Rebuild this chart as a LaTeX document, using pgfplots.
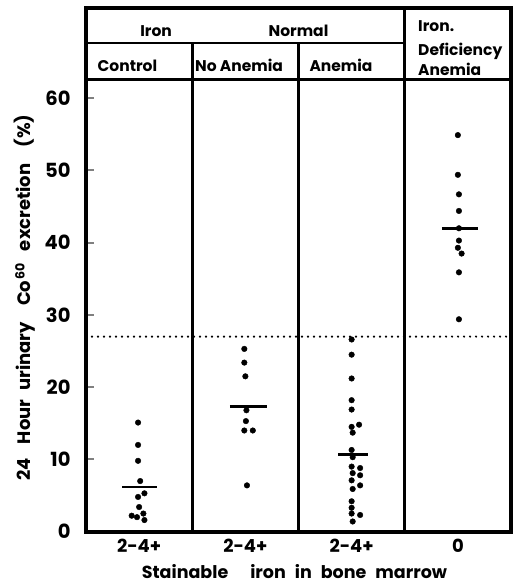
\documentclass[border=0pt]{standalone}
\usepackage{fontspec}
\setmainfont{Poppins}
\usepackage{pgfplots}
\pgfplotsset{compat=1.18}

\begin{document}
\begin{tikzpicture}
\path[use as bounding box] (-86pt,-54.4pt) rectangle (432pt,531.6pt);
\begin{axis}[
  scale only axis, width=425pt, height=523.6pt,
  xmin=-0.5, xmax=3.5, ymin=0, ymax=72.5,
  clip=false,
  axis line style={line width=4pt},
  xtick={0,1,2,3}, xticklabels={2-4+,2-4+,2-4+,0},
  xtick style={draw=none},
  ytick={0,10,20,30,40,50,60},
  ytick pos=left, tick align=inside,
  ytick style={line width=2pt},
  major tick length=8pt,
  /pgf/number format/assume math mode=true,
  yticklabel style={font=\bfseries\fontsize{19.5}{19.5}\selectfont, xshift=-12pt},
  xticklabel style={font=\bfseries\fontsize{18}{18}\selectfont, yshift=-4pt},
  xlabel={Stainable\hspace{22pt}iron\hspace{9pt}in\hspace{9pt}bone\hspace{9pt}marrow},
  ylabel={24\hspace{14pt}Hour\hspace{9pt}urinary\hspace{16pt}Co\hspace{1pt}\textsuperscript{60}\hspace{12pt}excretion\hspace{16pt}(\%)},
  xlabel style={font=\bfseries\fontsize{17.5}{17.5}\selectfont, at={(axis description cs:0.4906,-0.0765)}, anchor=center},
  ylabel style={font=\bfseries\fontsize{18}{18}\selectfont, at={(axis description cs:-0.1435,0.447)}, anchor=center},
  dot/.style={only marks, mark=*, mark size=2.8pt, black},
  mean/.style={no marks, sharp plot, black, line width=2.5pt},
]
% header grid
\draw[line width=3pt] (axis cs:-0.5,62.54) -- (axis cs:3.5,62.54);
\draw[line width=2.5pt] (axis cs:-0.5,67.67) -- (axis cs:2.5,67.67);
\draw[line width=2.5pt] (axis cs:0.5,0) -- (axis cs:0.5,67.67);
\draw[line width=2.5pt] (axis cs:1.5,0) -- (axis cs:1.5,67.67);
\draw[line width=3pt] (axis cs:2.5,0) -- (axis cs:2.5,72.5);
% header text
\begin{scope}[every node/.style={font=\bfseries\fontsize{15.5}{15.5}\selectfont, inner sep=0pt}]
\node[anchor=base] at (axis cs:0.16,68.5) {Iron};
\node[anchor=base] at (axis cs:1.50,68.5) {Normal};
\node[anchor=base] at (axis cs:-0.11,63.7) {Control};
\node[anchor=base] at (axis cs:0.94,63.7) {No Anemia};
\node[anchor=base] at (axis cs:1.90,63.7) {Anemia};
\node[anchor=base west] at (axis cs:2.625,69.2) {Iron.};
\node[anchor=base west] at (axis cs:2.625,65.9) {Deficiency};
\node[anchor=base west] at (axis cs:2.625,63.1) {Anemia};
\end{scope}
% reference level
\draw[line width=2.3pt, line cap=round, dash pattern=on 0pt off 6pt] (axis cs:-0.5,27) -- (axis cs:3.5,27);

% Iron normal, control
\addplot[dot] coordinates {(-0.01,15.1)(-0.01,12.0)(-0.01,9.8)(0.01,7.0)(0.05,5.3)(-0.01,4.8)(0.0,3.4)(0.04,2.5)(-0.07,2.2)(-0.02,2.0)(0.05,1.6)};
% Iron normal, no anemia
\addplot[dot] coordinates {(0.99,25.3)(0.99,23.4)(1.0,21.5)(1.01,16.8)(1.005,15.3)(0.99,14.0)(1.07,14.0)(1.015,6.4)};
% Iron normal, anemia
\addplot[dot] coordinates {(2.0,26.6)(2.0,24.5)(2.0,21.2)(2.0,18.2)(2.0,16.9)(2.07,14.8)(2.0,14.5)(2.01,13.7)(2.0,11.3)(2.01,10.3)(2.0,9.0)(2.08,8.8)(2.01,8.1)(2.08,7.8)(2.0,7.1)(2.08,6.4)(2.01,5.9)(2.0,4.2)(2.0,3.3)(2.0,2.5)(2.08,2.3)(2.01,1.4)};
% Iron deficiency anemia
\addplot[dot] coordinates {(3.0,54.9)(3.0,49.4)(3.01,46.7)(3.01,44.4)(3.01,42.0)(3.01,40.3)(3.0,39.3)(3.035,38.5)(3.01,35.9)(3.01,29.4)};

% group means
\addplot[mean] coordinates {(-0.16,6.2)(0.165,6.2)};
\addplot[mean] coordinates {(0.855,17.3)(1.2,17.3)};
\addplot[mean] coordinates {(1.875,10.7)(2.157,10.7)};
\addplot[mean] coordinates {(2.85,42.0)(3.19,42.0)};
\end{axis}
\end{tikzpicture}
\end{document}
